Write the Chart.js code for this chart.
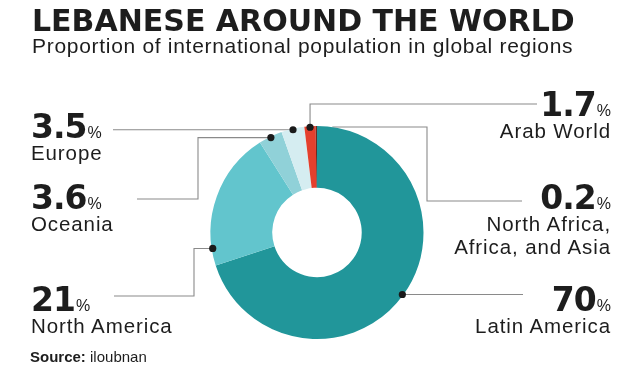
<!DOCTYPE html>
<html>
<head>
<meta charset="utf-8">
<script src="https://cdn.jsdelivr.net/npm/chart.js@4"></script>
<style>
  html, body { margin: 0; padding: 0; background: #ffffff; }
  #wrap { position: relative; width: 631px; height: 372px; overflow: hidden; }
  #chart { position: absolute; left: 0; top: 0; }
  .txt { position: absolute; color: #1d1d1d; white-space: pre-line; }
  .title { left: 32px; top: 6px; font: bold 30px "DejaVu Sans", sans-serif; line-height: 1; letter-spacing: 0px; }
  .subtitle { left: 32px; top: 35px; font: 21px "Liberation Sans", Arial, sans-serif; line-height: 1; letter-spacing: 0.7px; }
  .num { font: bold 33px "DejaVu Sans", sans-serif; line-height: 1; letter-spacing: -1px; }
  .pct { font: 16px "Liberation Sans", Arial, sans-serif; margin-left: 1px; letter-spacing: 0; }
  .name { font: 20.5px "Liberation Sans", Arial, sans-serif; line-height: 23px; letter-spacing: 0.9px; }
  .left { left: 31px; text-align: left; }
  .right { right: 20px; text-align: right; }
  .source { left: 30px; top: 349px; font: 15px "Liberation Sans", Arial, sans-serif; line-height: 1; }
  .source b { font-weight: bold; }
</style>
</head>
<body>
<div id="wrap">
  <canvas id="chart" width="631" height="372"></canvas>
  <div class="txt title">LEBANESE AROUND THE WORLD</div>
  <div class="txt subtitle">Proportion of international population in global regions</div>
  <div class="txt source"><b>Source:</b> iloubnan</div>
</div>
<script>
// Regions of the Lebanese diaspora and their share of the international population (%)
const regions = ['Latin America', 'North America', 'Oceania', 'Europe', 'Arab World', 'North Africa,\nAfrica, and Asia'];
const shares = [70, 21, 3.6, 3.5, 1.7, 0.2];
const sliceColors = ['#21969a', '#62c5cd', '#90d1d8', '#d5edf1', '#e4402d', '#6e2a22'];

// Where each region's callout sits and how its leader line runs
const callouts = [
  { i: 0, side: 'right', top: 283, frac: 0.5,  dot: true,  start: 0,  steps: [['x', 523]] },
  { i: 1, side: 'left',  top: 283, frac: 0.123, dot: true, start: 0,  steps: [['x', 194], ['y', 296], ['x', 114]] },
  { i: 2, side: 'left',  top: 181, frac: 0.5,  dot: true,  start: 0,  steps: [['x', 198], ['y', 199], ['x', 137]] },
  { i: 3, side: 'left',  top: 110, frac: 0.5,  dot: true,  start: 0,  steps: [['x', 113]] },
  { i: 4, side: 'right', top: 88,  frac: 0.5,  dot: true,  start: 0,  steps: [['y', 104], ['x', 537]] },
  { i: 5, side: 'right', top: 181, frac: 0.5,  dot: false, start: 16, steps: [['x', 427], ['y', 201], ['x', 522]] }
];

// Callout text: value in heavy digits with a small %, region name below
const wrap = document.getElementById('wrap');
callouts.forEach(c => {
  const n = document.createElement('div');
  n.className = 'txt num ' + c.side;
  n.style.top = c.top + 'px';
  n.innerHTML = '<span>' + String(shares[c.i]) + '</span><span class="pct">%</span>';
  wrap.appendChild(n);
  const t = document.createElement('div');
  t.className = 'txt name ' + c.side;
  t.style.top = (c.top + 30.5) + 'px';
  t.textContent = regions[c.i];
  wrap.appendChild(t);
});

// Leader lines run beneath the ring; dots sit on top of it
function anchorOf(chart, c) {
  const arc = chart.getDatasetMeta(0).data[c.i];
  const a = arc.startAngle + c.frac * (arc.endAngle - arc.startAngle);
  const r = arc.outerRadius - 1;
  return { x: arc.x + Math.cos(a) * r, y: arc.y + Math.sin(a) * r };
}

const leaderPlugin = {
  id: 'leaders',
  beforeDatasetsDraw(chart) {
    const ctx = chart.ctx;
    ctx.save();
    ctx.strokeStyle = '#8a8a8a';
    ctx.lineWidth = 1.1;
    callouts.forEach(c => {
      const p = anchorOf(chart, c);
      let x = p.x + c.start, y = p.y;
      ctx.beginPath();
      ctx.moveTo(x, y);
      c.steps.forEach(([axis, v]) => {
        if (axis === 'x') x = v; else y = v;
        ctx.lineTo(x, y);
      });
      ctx.stroke();
    });
    ctx.restore();
  },
  afterDatasetsDraw(chart) {
    const ctx = chart.ctx;
    ctx.save();
    ctx.fillStyle = '#1a1a1a';
    callouts.forEach(c => {
      if (!c.dot) return;
      const p = anchorOf(chart, c);
      ctx.beginPath();
      ctx.arc(p.x, p.y, 3.6, 0, Math.PI * 2);
      ctx.fill();
    });
    ctx.restore();
  }
};

new Chart(document.getElementById('chart'), {
  type: 'doughnut',
  data: {
    labels: regions,
    datasets: [{
      data: shares,
      backgroundColor: sliceColors,
      borderWidth: 0
    }]
  },
  options: {
    responsive: false,
    animation: false,
    cutout: '42%',
    layout: { padding: { left: 210, right: 207, top: 126, bottom: 33 } },
    plugins: { legend: { display: false }, tooltip: { enabled: false } }
  },
  plugins: [leaderPlugin]
});
</script>
</body>
</html>
